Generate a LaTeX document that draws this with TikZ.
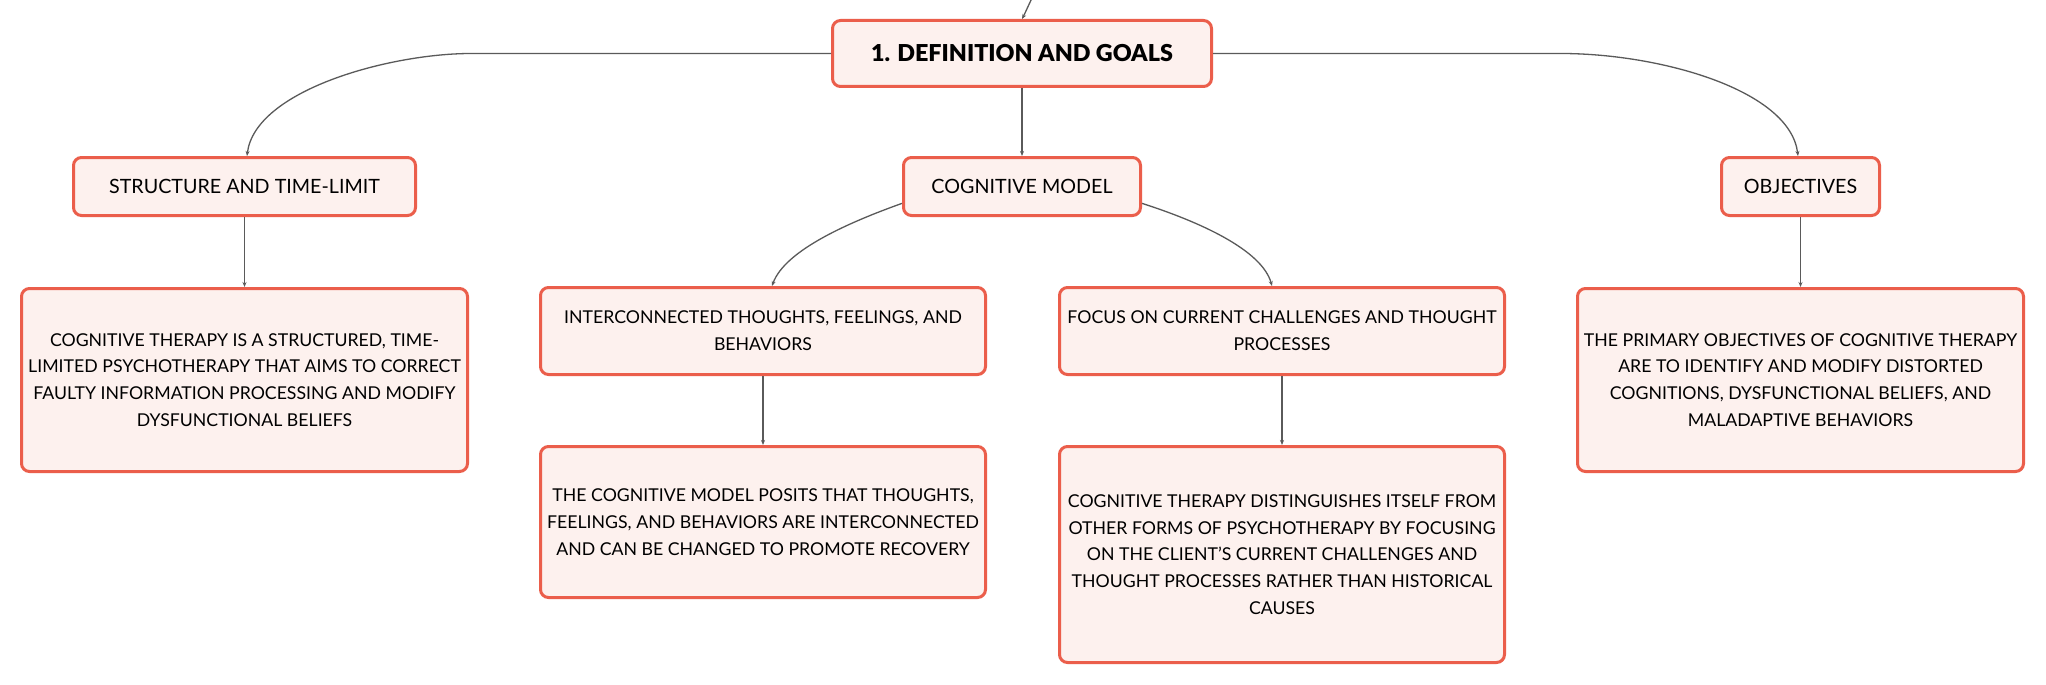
\documentclass[tikz,border=0pt]{standalone}
\usepackage{fontspec}
\setmainfont{Lato}
\newfontfamily\titlefont{Lato Black}
\usetikzlibrary{arrows.meta}
\definecolor{boxred}{HTML}{EB5E4B}
\definecolor{boxfill}{HTML}{FDF1EE}
\definecolor{linkgray}{HTML}{5A5A5A}

\begin{document}
\begin{tikzpicture}[x=1pt,y=-1pt,>={Stealth[length=5pt,width=4pt]},
  box/.style={draw=boxred,fill=boxfill,line width=3pt,rounded corners=8pt,align=center,inner sep=0pt,
    font=\fontsize{17.7}{26.7}\selectfont},
  head/.style={box,minimum height=58,font=\fontsize{19.7}{26.7}\selectfont},
  link/.style={draw=linkgray,line width=1.3pt,->}]

\path[use as bounding box,fill=white] (0,0) rectangle (2046,685);

\node [box,minimum width=379,minimum height=66,font=\fontsize{23.3}{26}\titlefont] (root) at (1022,53.5) {1. DEFINITION AND GOALS};

\node [head,minimum width=342] (struct) at (244.5,186.5) {STRUCTURE AND TIME-LIMIT};
\node [head,minimum width=237] (model) at (1022,186.5) {COGNITIVE MODEL};
\node [head,minimum width=158] (obj) at (1800.5,186.5) {OBJECTIVES};

\node [box,minimum width=446,minimum height=183] (structtxt) at (244.5,380) {COGNITIVE THERAPY IS A STRUCTURED, TIME-\\LIMITED PSYCHOTHERAPY THAT AIMS TO CORRECT\\FAULTY INFORMATION PROCESSING AND MODIFY\\DYSFUNCTIONAL BELIEFS};
\node [box,minimum width=445,minimum height=87] (inter) at (763,331) {INTERCONNECTED THOUGHTS, FEELINGS, AND\\BEHAVIORS};
\node [box,minimum width=445,minimum height=87] (focus) at (1282,331) {FOCUS ON CURRENT CHALLENGES AND THOUGHT\\PROCESSES};
\node [box,minimum width=446,minimum height=183] (objtxt) at (1800.5,380) {THE PRIMARY OBJECTIVES OF COGNITIVE THERAPY\\ARE TO IDENTIFY AND MODIFY DISTORTED\\COGNITIONS, DYSFUNCTIONAL BELIEFS, AND\\MALADAPTIVE BEHAVIORS};

\node [box,minimum width=445,minimum height=151] (intertxt) at (763,522) {THE COGNITIVE MODEL POSITS THAT THOUGHTS,\\FEELINGS, AND BEHAVIORS ARE INTERCONNECTED\\AND CAN BE CHANGED TO PROMOTE RECOVERY};
\node [box,minimum width=445,minimum height=216] (focustxt) at (1282,554.5) {COGNITIVE THERAPY DISTINGUISHES ITSELF FROM\\OTHER FORMS OF PSYCHOTHERAPY BY FOCUSING\\ON THE CLIENT'S CURRENT CHALLENGES AND\\THOUGHT PROCESSES RATHER THAN HISTORICAL\\CAUSES};

\coordinate (parent) at (1032,-2);

\draw [link] (parent) .. controls (1028,8) .. (root.north);
\draw [link] (root.west) -- (471,53.5) .. controls (390,53.5) and (255,90) .. ([xshift=2.5pt]struct.north);
\draw [link] (root.east) -- (1561,53.5) .. controls (1660,53.5) and (1790,90) .. ([xshift=-2.5pt]obj.north);
\draw [link] (root.south) -- (model.north);
\draw [link] (model.188) .. controls (850,222) and (785,250) .. ([xshift=9pt]inter.north);
\draw [link] (model.352) .. controls (1200,222) and (1262,250) .. ([xshift=-10pt]focus.north);
\draw [link] (struct.south) -- (structtxt.north);
\draw [link] (obj.south) -- (objtxt.north);
\draw [link] (inter.south) -- (intertxt.north);
\draw [link] (focus.south) -- (focustxt.north);

\end{tikzpicture}
\end{document}
